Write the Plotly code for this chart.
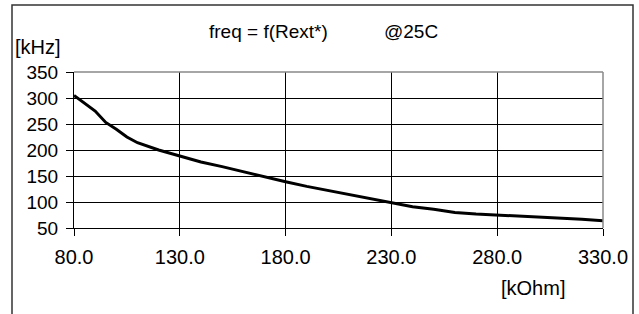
import plotly.graph_objects as go

# Data
rext_kohm = [80, 85, 90, 95, 100, 105, 110, 120, 130, 140, 150, 160, 170, 180, 190,
             200, 210, 220, 230, 240, 250, 260, 270, 280, 290, 300, 310, 320, 330]
freq_khz = [305, 290, 275, 253, 240, 225, 214, 200, 188, 177, 168, 158, 148, 139, 130,
            122, 114, 106, 98, 91, 86, 80, 77, 75, 73, 72, 70, 67, 64]

x_ticks = [80, 130, 180, 230, 280, 330]
x_tick_labels = ["80.0", "130.0", "180.0", "230.0", "280.0", "330.0"]
y_ticks = [50, 100, 150, 200, 250, 300, 350]

W, H = 639, 314
ML, MR, MT, MB = 74, 36, 72, 86
PW, PH = W - ML - MR, H - MT - MB


def px(x):
    return (x - ML) / PW


def py(y):
    return 1 - (y - MT) / PH


FONT = "Liberation Sans, Arial, sans-serif"

fig = go.Figure()
fig.add_trace(go.Scatter(x=rext_kohm, y=freq_khz, mode="lines",
                         line=dict(color="black", width=3), showlegend=False,
                         cliponaxis=False))

fig.update_layout(
    width=W, height=H,
    margin=dict(l=ML, r=MR, t=MT, b=MB, pad=0),
    paper_bgcolor="white", plot_bgcolor="white",
    font=dict(family=FONT, color="black", size=20),
    xaxis=dict(range=[80, 330], tickvals=x_ticks, ticktext=x_tick_labels,
               showgrid=True, gridcolor="black", gridwidth=1,
               showline=True, linecolor="black", linewidth=1,
               ticks="outside", ticklen=7, tickcolor="black",
               ticklabelstandoff=4,
               tickfont=dict(size=20), zeroline=False, fixedrange=True),
    yaxis=dict(range=[50, 350], tickvals=y_ticks,
               showgrid=True, gridcolor="black", gridwidth=1,
               showline=True, linecolor="black", linewidth=1,
               ticks="outside", ticklen=7, tickcolor="black",
               ticklabelstandoff=4,
               tickfont=dict(size=19), zeroline=False, fixedrange=True),
    shapes=[
        # plot-area top/right border (gray)
        dict(type="line", xref="paper", yref="paper", x0=0, x1=1, y0=1, y1=1,
             line=dict(color="#888888", width=1.5), layer="above"),
        dict(type="line", xref="paper", yref="paper", x0=1, x1=1, y0=0, y1=1,
             line=dict(color="#888888", width=1.5), layer="above"),
        # outer chart frame
        dict(type="rect", xref="paper", yref="paper",
             x0=px(12), x1=px(633), y0=py(330), y1=py(5),
             line=dict(color="#333333", width=1.5), layer="below"),
    ],
    annotations=[
        dict(text="freq = f(Rext*)", xref="paper", yref="paper",
             x=px(207), y=py(31), xanchor="left", yanchor="middle",
             showarrow=False, font=dict(size=19)),
        dict(text="@25C", xref="paper", yref="paper",
             x=px(382), y=py(31), xanchor="left", yanchor="middle",
             showarrow=False, font=dict(size=19)),
        dict(text="[kHz]", xref="paper", yref="paper",
             x=px(13), y=py(47), xanchor="left", yanchor="middle",
             showarrow=False, font=dict(size=20)),
        dict(text="[kOhm]", xref="paper", yref="paper",
             x=px(499), y=py(288), xanchor="left", yanchor="middle",
             showarrow=False, font=dict(size=20)),
    ],
)

fig.write_html("out.html", config={"displayModeBar": False},
               post_script="document.body.style.margin='0';document.body.style.overflow='hidden';")
